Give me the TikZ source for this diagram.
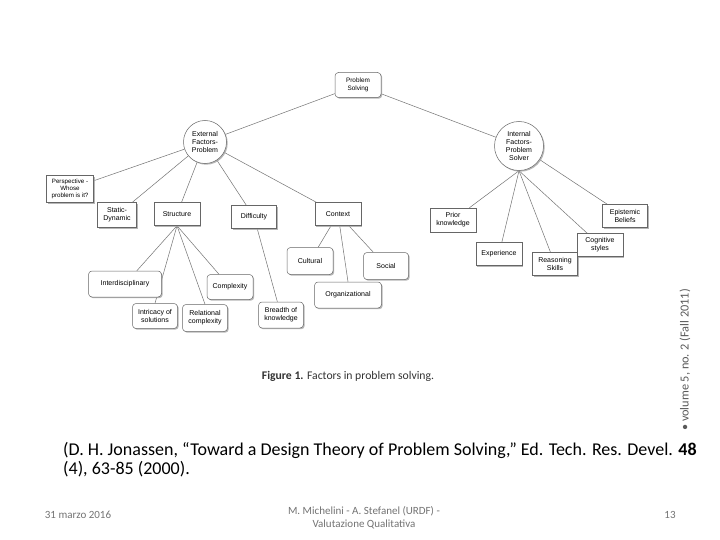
\documentclass[tikz,border=0pt]{standalone}
\usepackage{fontspec}
\usetikzlibrary{shadows,backgrounds}
\newfontfamily\diagfont{Liberation Sans}
\newfontfamily\calfont{Carlito}
\begin{document}
\begin{tikzpicture}[x=1pt,y=-1pt]
\tikzset{
  bx/.style={draw=black!60, fill=white, line width=0.5pt,
    font=\diagfont\fontsize{7}{8}\selectfont, align=center, inner sep=1pt,
    drop shadow={shadow xshift=1.2pt, shadow yshift=-1.2pt, fill=black!35, opacity=0.8}},
  rbx/.style={bx, rounded corners=3.5pt},
  cir/.style={bx, circle, inner sep=0pt},
  ed/.style={draw=black!55, line width=0.5pt},
  foot/.style={font=\calfont\fontsize{11}{13}\selectfont, text=black!55, align=center}
}
\useasboundingbox (0,0) rectangle (720,540);

% top
\node[rbx, minimum width=46pt, minimum height=25pt, font=\diagfont\fontsize{6.4}{7.4}\selectfont] (ps) at (358,85) {Problem\\Solving};
\node[cir, minimum size=43pt] (ext) at (205,142) {External\\Factors-\\Problem};
\node[cir, minimum size=49pt] (int) at (519,146) {Internal\\Factors-\\Problem\\Solver};

% external children
\node[bx, minimum width=47pt, minimum height=27pt, font=\diagfont\fontsize{6.2}{7.2}\selectfont] (persp) at (70,189) {Perspective -\\Whose\\problem is it?};
\node[bx, minimum width=39pt, minimum height=25pt] (stat) at (117,215) {Static-\\Dynamic};
\node[bx, minimum width=46pt, minimum height=23pt] (struc) at (177,214) {Structure};
\node[bx, minimum width=45pt, minimum height=23pt] (diff) at (254,217) {Difficulty};
\node[bx, minimum width=46pt, minimum height=23pt] (cont) at (338,214) {Context};

% structure children
\node[rbx, minimum width=73pt, minimum height=26pt] (inter) at (125,284) {Interdisciplinary};
\node[rbx, minimum width=45pt, minimum height=25pt] (intr) at (155,316) {Intricacy of\\solutions};
\node[rbx, minimum width=45pt, minimum height=27pt] (rel) at (205,318) {Relational\\complexity};
\node[rbx, minimum width=46pt, minimum height=25pt] (compl) at (230,287) {Complexity};
\node[rbx, minimum width=45pt, minimum height=26pt] (bread) at (281,315) {Breadth of\\knowledge};

% context children
\node[rbx, minimum width=46pt, minimum height=27pt] (cult) at (310,261) {Cultural};
\node[rbx, minimum width=45pt, minimum height=27pt] (soc) at (386,266) {Social};
\node[rbx, minimum width=67pt, minimum height=26pt] (org) at (348,295) {Organizational};

% internal children
\node[bx, minimum width=46pt, minimum height=24pt] (prior) at (453,220) {Prior\\knowledge};
\node[bx, minimum width=46pt, minimum height=23pt] (exper) at (499,254) {Experience};
\node[bx, minimum width=45pt, minimum height=23pt] (reas) at (555,264) {Reasoning\\Skills};
\node[bx, minimum width=46pt, minimum height=23pt] (cogn) at (600,245) {Cognitive\\styles};
\node[bx, minimum width=45pt, minimum height=23pt] (epis) at (625,216) {Epistemic\\Beliefs};

\begin{scope}[on background layer]
  \fill[white] (0,0) rectangle (720,540);
  \draw[ed] (ps) -- (ext);
  \draw[ed] (ps) -- (int);
  \draw[ed] (ext) -- (persp);
  \draw[ed] (ext) -- (stat);
  \draw[ed] (ext) -- (struc);
  \draw[ed] (ext) -- (diff);
  \draw[ed] (ext) -- (cont);
  \draw[ed] (struc.south) -- (inter);
  \draw[ed] (struc.south) -- (intr.north);
  \draw[ed] (struc.south) -- (rel.north);
  \draw[ed] (struc.south) -- (compl);
  \draw[ed] (diff) -- (bread);
  \draw[ed] (cont) -- (cult);
  \draw[ed] (cont) -- (org.north);
  \draw[ed] (cont) -- (soc);
  \draw[ed] (int.south) -- (prior);
  \draw[ed] (int.south) -- (exper);
  \draw[ed] (int.south) -- (reas);
  \draw[ed] (int.south) -- (cogn);
  \draw[ed] (int) -- (epis);
\end{scope}

% caption and side label
\node[font=\calfont\fontsize{11.7}{13}\selectfont, text=black!80] (cap) at (348,376) {\textbf{Figure 1.} Factors in problem solving.};
\node[font=\calfont\fontsize{12.3}{14}\selectfont, text=black!65, rotate=90] (vol) at (685,360) {\textbullet\ volume 5, no. 2 (Fall 2011)};

% citation
\node[font=\calfont\fontsize{18}{19.5}\selectfont, anchor=north west, align=left, inner sep=0pt] (cite) at (63,442)
  {(D. H. Jonassen, “Toward a Design Theory of Problem Solving,” Ed. Tech. Res. Devel. \textbf{48}\\(4), 63-85 (2000).};

% footer
\node[foot] (date) at (78,515) {31 marzo 2016};
\node[foot] (auth) at (364,518) {M. Michelini - A. Stefanel (URDF) -\\Valutazione Qualitativa};
\node[foot] (page) at (670,515) {13};
\end{tikzpicture}
\end{document}
